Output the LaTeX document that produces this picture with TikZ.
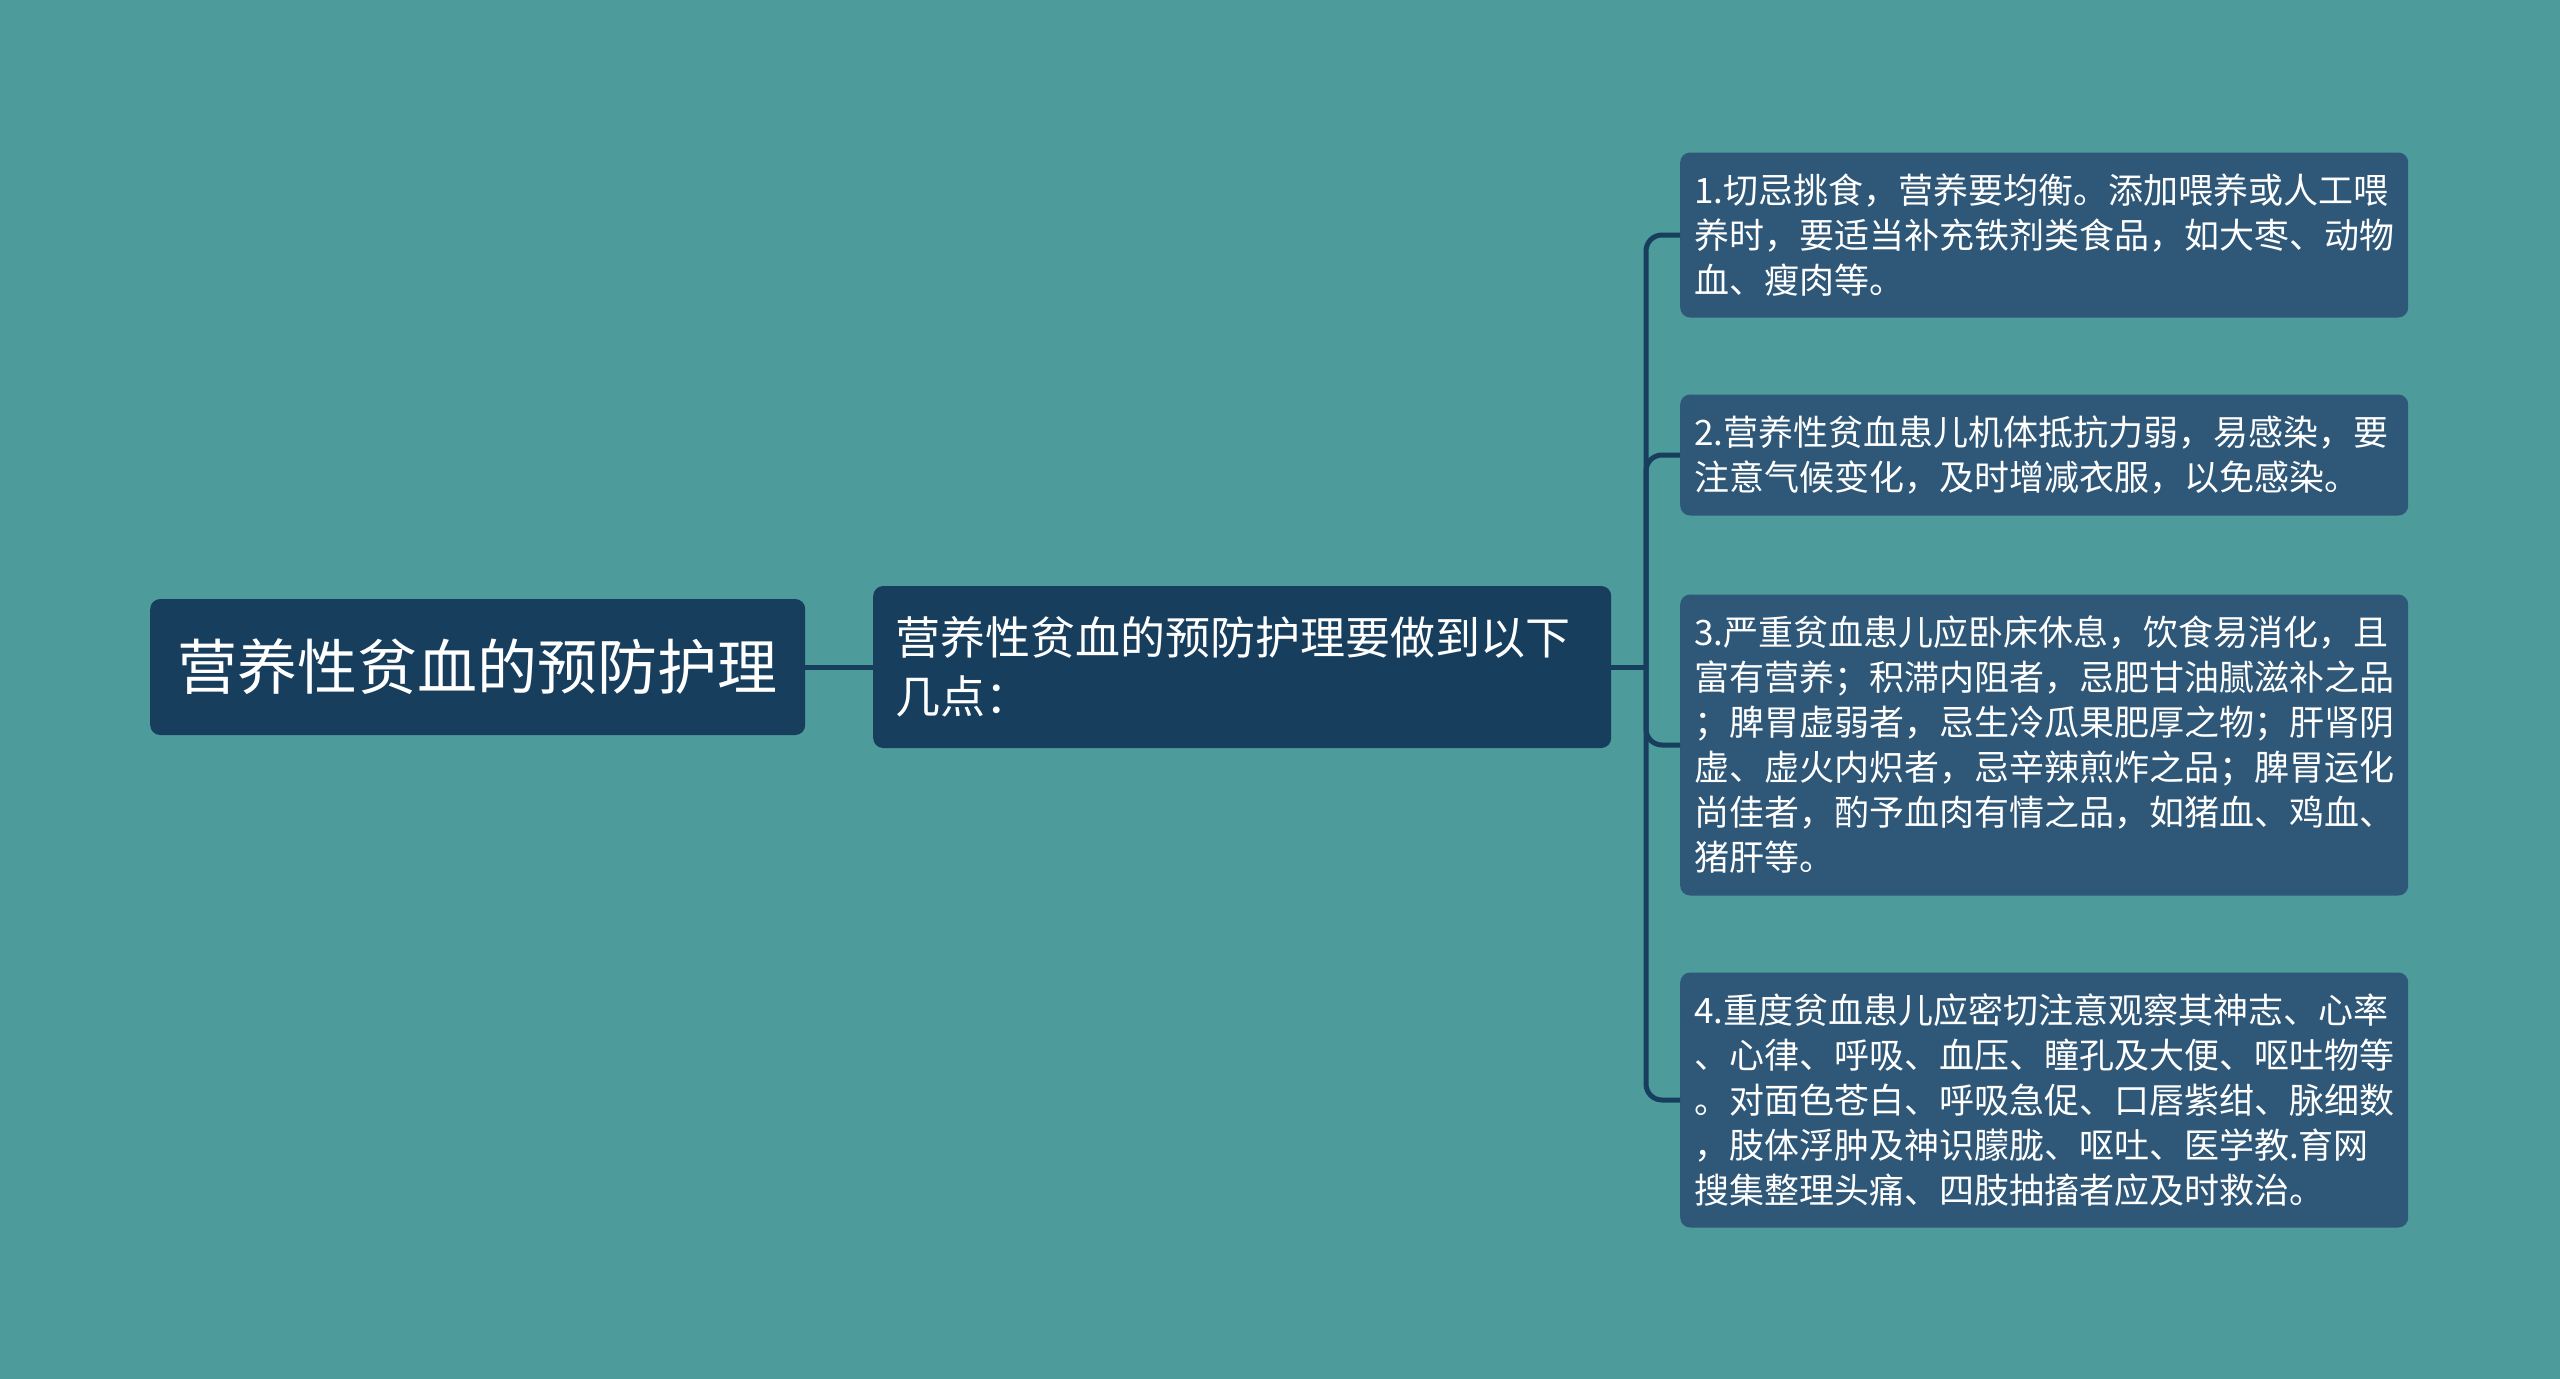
\documentclass[tikz,border=0pt]{standalone}
\usepackage{fontspec}
\setmainfont{Noto Sans CJK SC}
\definecolor{bgc}{HTML}{4D9B9B}
\definecolor{darkc}{HTML}{183E5E}
\definecolor{leafc}{HTML}{2E5778}
\tikzset{
  rootbox/.style={fill=darkc, rounded corners=10pt, text=white, inner sep=0pt,
    minimum width=655pt, minimum height=136pt, font=\fontsize{60}{72}\selectfont},
  midbox/.style={fill=darkc, rounded corners=10pt, text=white, inner xsep=22pt, inner ysep=0pt,
    minimum width=738pt, minimum height=162pt, text width=694pt, align=left,
    font=\fontsize{45}{59}\selectfont},
  leafbox/.style={fill=leafc, rounded corners=10pt, text=white, inner xsep=14pt, inner ysep=0pt,
    minimum width=728pt, text width=700pt, align=left,
    font=\fontsize{35}{45}\selectfont},
  conn/.style={draw=darkc, line width=5pt},
}
\begin{document}
\begin{tikzpicture}[x=1pt,y=-1pt]
\fill[bgc] (0,0) rectangle (2560,1379);
\useasboundingbox (0,0) rectangle (2560,1379);

\node[rootbox, anchor=west] (root) at (150,667) {营养性贫血的预防护理};
\node[midbox, anchor=west] (mid) at (873,667) {营养性贫血的预防护理要做到以下\\几点：};

\node[leafbox, anchor=west, minimum height=165pt] (n1) at (1680,235)
  {1.切忌挑食，营养要均衡。添加喂养或人工喂\\养时，要适当补充铁剂类食品，如大枣、动物\\血、瘦肉等。};
\node[leafbox, anchor=west, minimum height=121pt] (n2) at (1680,455)
  {2.营养性贫血患儿机体抵抗力弱，易感染，要\\注意气候变化，及时增减衣服，以免感染。};
\node[leafbox, anchor=west, minimum height=301pt] (n3) at (1680,745)
  {3.严重贫血患儿应卧床休息，饮食易消化，且\\富有营养；积滞内阻者，忌肥甘油腻滋补之品\\；脾胃虚弱者，忌生冷瓜果肥厚之物；肝肾阴\\虚、虚火内炽者，忌辛辣煎炸之品；脾胃运化\\尚佳者，酌予血肉有情之品，如猪血、鸡血、\\猪肝等。};
\node[leafbox, anchor=west, minimum height=255pt] (n4) at (1680,1100)
  {4.重度贫血患儿应密切注意观察其神志、心率\\、心律、呼吸、血压、瞳孔及大便、呕吐物等\\。对面色苍白、呼吸急促、口唇紫绀、脉细数\\，肢体浮肿及神识朦胧、呕吐、医学教.育网\\搜集整理头痛、四肢抽搐者应及时救治。};

\coordinate (bus) at (1646,667);
\draw[conn] (root.east) -- (mid.west);
\draw[conn] (mid.east) -- (bus);
\foreach \n in {n1,n2,n3,n4}
  \draw[conn, rounded corners=16pt] (bus) |- (\n.west);
\end{tikzpicture}
\end{document}
